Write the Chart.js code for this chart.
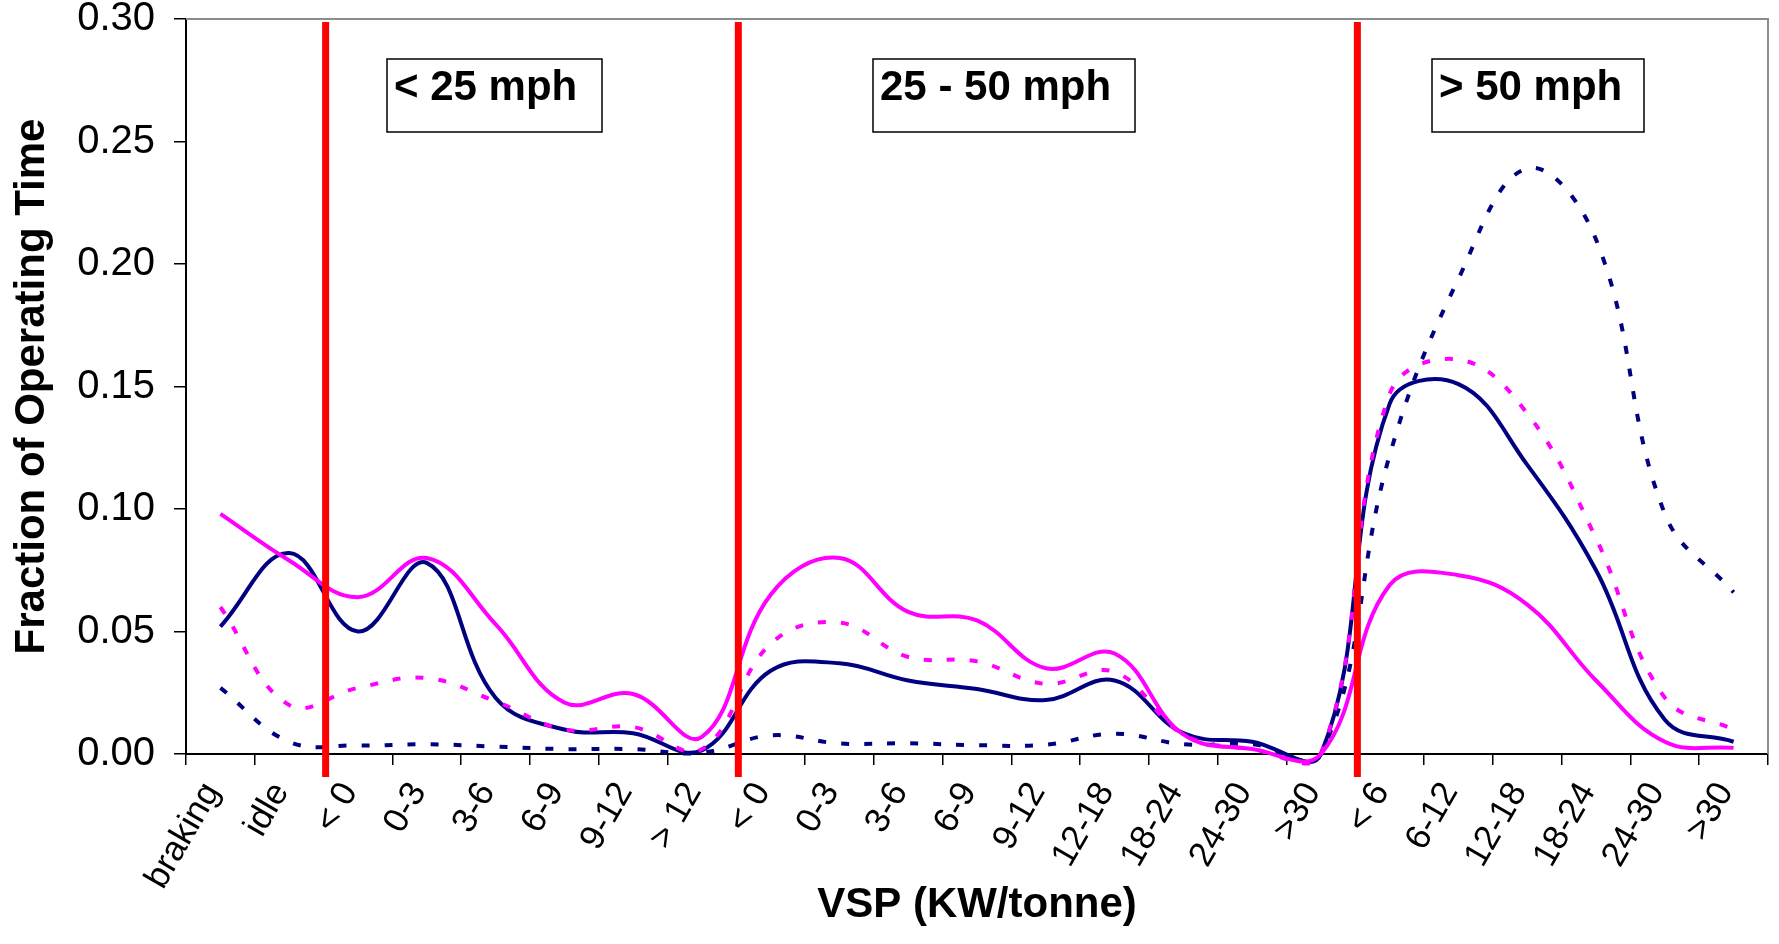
<!DOCTYPE html>
<html>
<head>
<meta charset="utf-8">
<script src="https://cdn.jsdelivr.net/npm/chart.js@4"></script>
<style>
  html, body { margin: 0; padding: 0; background: #fff; }
  #wrap { width: 1779px; height: 944px; position: relative; }
</style>
</head>
<body>
<div id="wrap"><canvas id="vspChart"></canvas></div>
<script>
// VSP bins, grouped by speed range
const vspLabels = ["braking", "idle", "< 0", "0-3", "3-6", "6-9", "9-12", "> 12",
  "< 0", "0-3", "3-6", "6-9", "9-12", "12-18", "18-24", "24-30", ">30",
  "< 6", "6-12", "12-18", "18-24", "24-30", ">30"];

// first bin of each speed range (a red divider goes just before it)
const speedBinStart = [2, 8, 17];
const speedBinNames = ["< 25 mph", "25 - 50 mph", "> 50 mph"];

const navySolid = [0.052, 0.082, 0.050, 0.078, 0.023, 0.010, 0.0085, 0.0015,
  0.034, 0.037, 0.030, 0.0265, 0.022, 0.030, 0.0085, 0.005, 0.000,
  0.143, 0.151, 0.118, 0.075, 0.014, 0.005];

const navyDotted = [0.027, 0.005, 0.0035, 0.004, 0.003, 0.002, 0.002, 0.0005,
  0.0076, 0.0043, 0.0044, 0.0036, 0.0038, 0.0083, 0.004, 0.004, 0.000,
  0.122, 0.194, 0.239, 0.210, 0.098, 0.066];

const magentaSolid = [0.098, 0.079, 0.064, 0.080, 0.053, 0.021, 0.0245, 0.007,
  0.065, 0.080, 0.058, 0.0545, 0.035, 0.041, 0.008, 0.002, 0.000,
  0.069, 0.073, 0.061, 0.030, 0.005, 0.0025];

const magentaDotted = [0.060, 0.020, 0.027, 0.031, 0.0215, 0.010, 0.011, 0.002,
  0.045, 0.0536, 0.0396, 0.0378, 0.0286, 0.0335, 0.008, 0.002, 0.000,
  0.147, 0.161, 0.139, 0.088, 0.023, 0.010];

const yTicks = [0, 0.05, 0.10, 0.15, 0.20, 0.25, 0.30];

const FONT = '"Liberation Sans", Arial, sans-serif';
const NAVY = "#000080";
const PINK = "#ff00ff";

function series(data, color, dotted) {
    return {
        data: data,
        borderColor: color,
        backgroundColor: color,
        borderWidth: 4,
        borderDash: dotted ? [8, 15] : [],
        pointRadius: 0,
        tension: 0.4,
        capBezierPoints: false,
        clip: false,
        fill: false
    };
}

// frame, red dividers, speed boxes and the slanted bin labels
const overlay = {
    id: "overlay",
    beforeDatasetsDraw(chart) {
        const { ctx, chartArea: a } = chart;
        ctx.save();
        ctx.strokeStyle = "#8c8c8c";
        ctx.lineWidth = 2;
        ctx.beginPath();
        ctx.moveTo(a.left, a.top);
        ctx.lineTo(a.right, a.top);
        ctx.lineTo(a.right, a.bottom);
        ctx.stroke();
        ctx.restore();
    },
    afterDatasetsDraw(chart) {
        const { ctx, chartArea: a, scales: { x } } = chart;
        ctx.save();

        ctx.strokeStyle = "#ff0000";
        ctx.lineWidth = 7;
        speedBinStart.forEach(i => {
            const p0 = x.getPixelForValue(i - 1);
            const p1 = x.getPixelForValue(i);
            const px = p0 + (p1 - p0) * 0.53;
            ctx.beginPath();
            ctx.moveTo(px, a.top + 3);
            ctx.lineTo(px, a.bottom + 23);
            ctx.stroke();
        });

        const boxes = [[387, 602], [873, 1135], [1432, 1644]];
        ctx.font = "bold 42px " + FONT;
        ctx.textBaseline = "alphabetic";
        ctx.textAlign = "left";
        boxes.forEach((b, k) => {
            ctx.fillStyle = "#fff";
            ctx.fillRect(b[0], 59, b[1] - b[0], 73);
            ctx.strokeStyle = "#000";
            ctx.lineWidth = 1.5;
            ctx.strokeRect(b[0], 59, b[1] - b[0], 73);
            ctx.fillStyle = "#000";
            ctx.fillText(speedBinNames[k], b[0] + 7, 100);
        });
        ctx.restore();
    },
    afterDraw(chart) {
        const { ctx, chartArea: a, scales: { x } } = chart;
        ctx.save();
        ctx.font = "35px " + FONT;
        ctx.fillStyle = "#000";
        ctx.textAlign = "right";
        ctx.textBaseline = "alphabetic";
        vspLabels.forEach((lab, i) => {
            ctx.save();
            ctx.translate(x.getPixelForTick(i), a.bottom + 37);
            ctx.rotate(-Math.PI / 3);
            ctx.fillText(lab, 0, 0);
            ctx.restore();
        });
        ctx.restore();
    }
};

const vspCtx = document.getElementById("vspChart").getContext("2d");

const vspChart = new Chart(vspCtx, {
    type: "line",
    data: {
        labels: vspLabels,
        datasets: [
            series(magentaDotted, PINK, true),
            series(magentaSolid, PINK, false),
            series(navyDotted, NAVY, true),
            series(navySolid, NAVY, false)
        ]
    },
    options: {
        responsive: true,
        maintainAspectRatio: false,
        animation: false,
        layout: {
            padding: { left: 0, right: 11, top: 19, bottom: 0 }
        },
        plugins: {
            legend: { display: false },
            tooltip: { enabled: false }
        },
        scales: {
            x: {
                offset: true,
                afterFit: s => {
                    s.height = 190;
                    s.paddingLeft = 0;
                    s.paddingRight = 0;
                },
                grid: {
                    offset: true,
                    drawOnChartArea: false,
                    tickLength: 11,
                    color: "#000",
                    lineWidth: 1.5
                },
                border: { color: "#000", width: 2 },
                ticks: {
                    display: false,
                    autoSkip: false
                },
                title: {
                    display: true,
                    text: "VSP (KW/tonne)",
                    color: "#000",
                    padding: { top: 0, bottom: 13 },
                    font: { family: FONT, size: 42, weight: "bold" }
                }
            },
            y: {
                min: 0,
                max: 0.3,
                afterFit: s => {
                    s.width = 186;
                    s.paddingTop = 0;
                    s.paddingBottom = 0;
                },
                afterBuildTicks: s => {
                    s.ticks = yTicks.map(v => ({ value: v }));
                },
                grid: {
                    drawOnChartArea: false,
                    tickLength: 12,
                    color: "#000",
                    lineWidth: 1.5
                },
                border: { color: "#000", width: 2 },
                ticks: {
                    padding: 19,
                    color: "#000",
                    font: { family: FONT, size: 40 },
                    callback: v => v.toFixed(2)
                },
                title: {
                    display: true,
                    text: "Fraction of Operating Time",
                    color: "#000",
                    padding: { top: 7, bottom: 0 },
                    font: { family: FONT, size: 42, weight: "bold" }
                }
            }
        }
    },
    plugins: [overlay]
});
</script>
</body>
</html>
